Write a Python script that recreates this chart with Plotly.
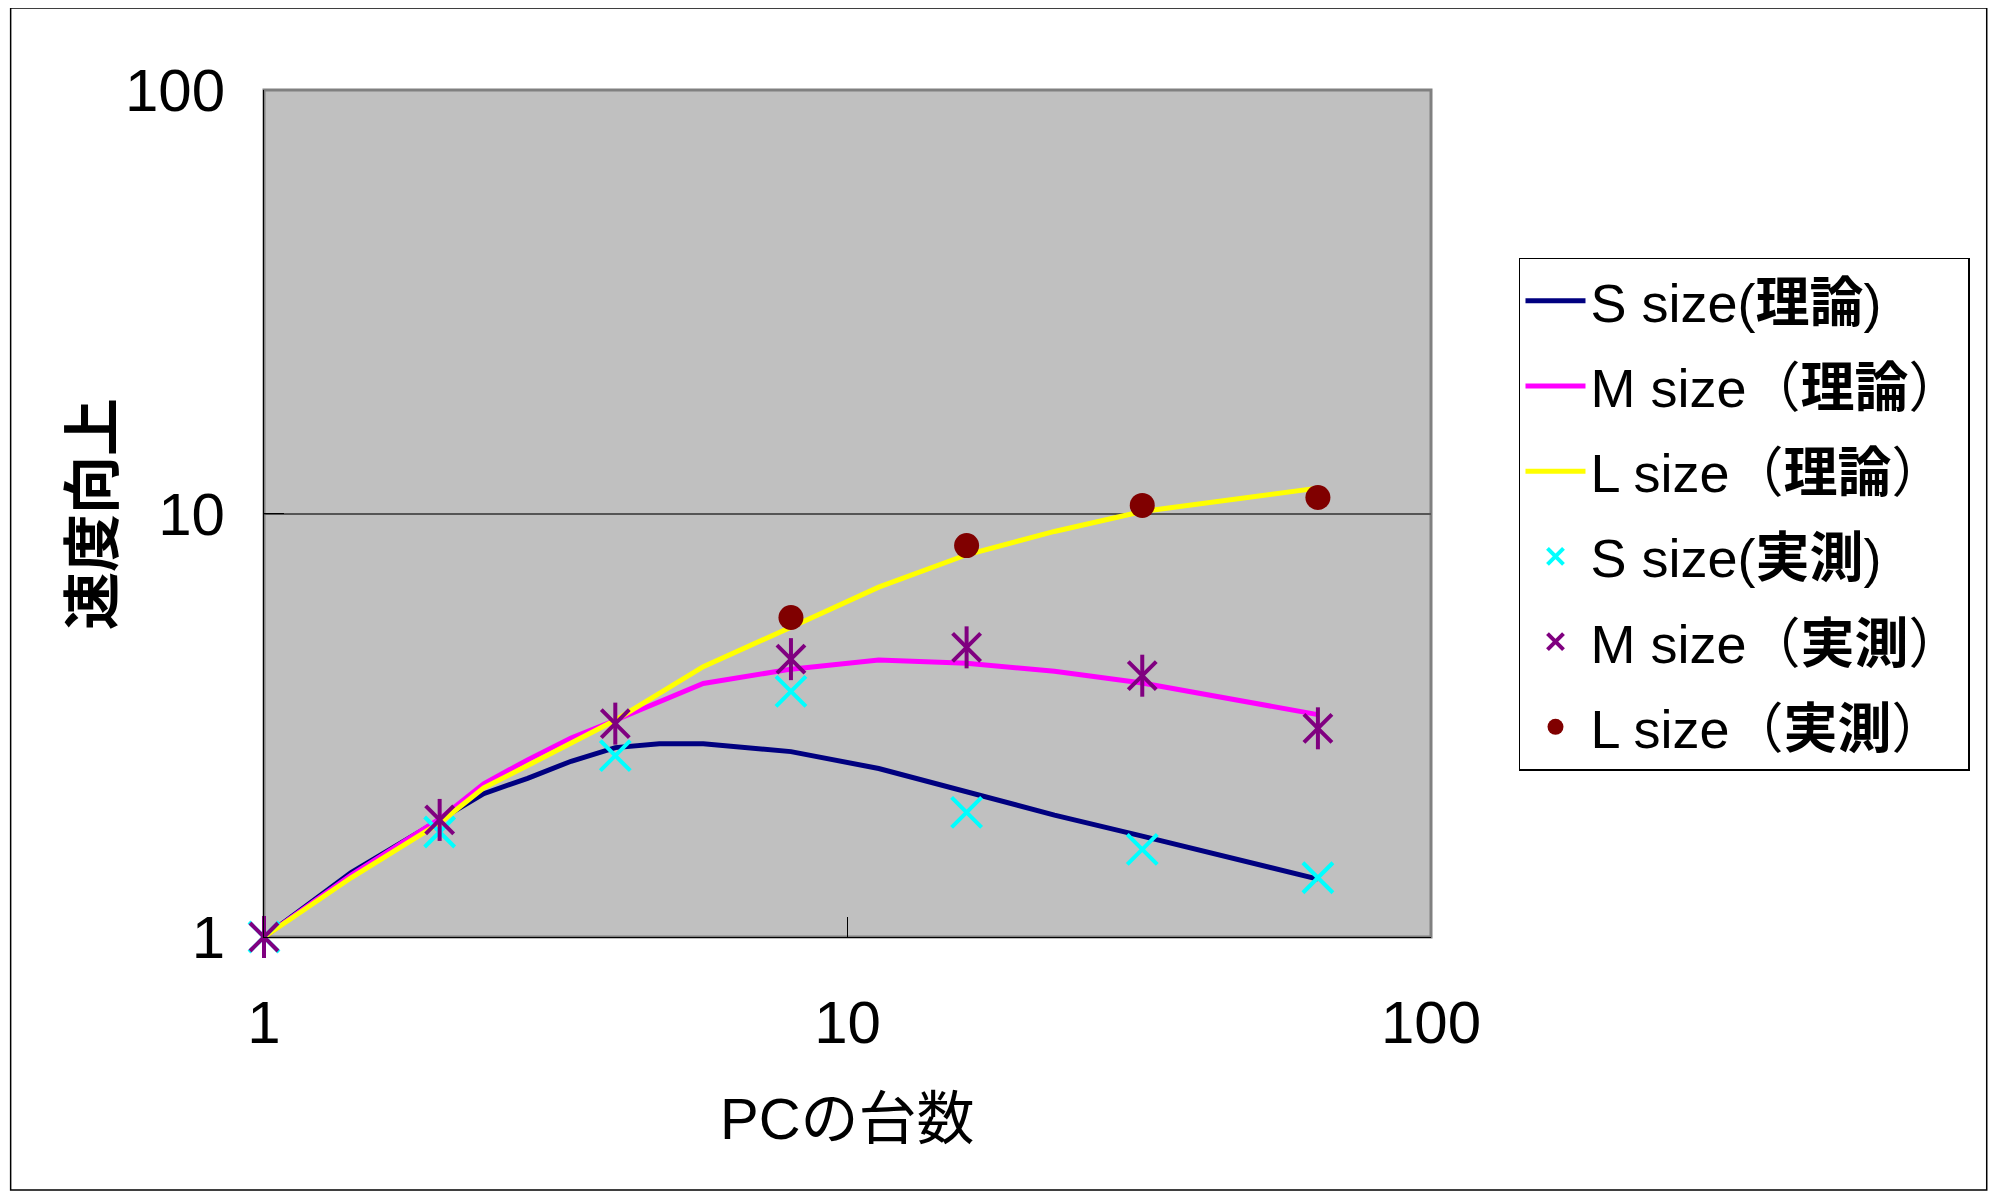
import plotly.graph_objects as go

# ---------------- data ----------------
x_theory = [1, 1.41, 2, 2.38, 2.83, 3.36, 4, 4.76, 5.66, 8, 11.31, 16, 22.63, 32, 45.25, 64]
s_theory = [1, 1.42, 1.89, 2.18, 2.37, 2.60, 2.80, 2.86, 2.86, 2.74, 2.50, 2.20, 1.94, 1.73, 1.54, 1.37]
m_theory = [1, 1.40, 1.90, 2.30, 2.62, 2.95, 3.25, 3.60, 3.97, 4.29, 4.51, 4.43, 4.24, 3.98, 3.65, 3.35]
l_theory = [1, 1.38, 1.86, 2.25, 2.54, 2.88, 3.25, 3.76, 4.35, 5.39, 6.70, 7.99, 9.07, 10.11, 10.80, 11.48]

x_measured = [1, 2, 4, 8, 16, 32, 64]
s_measured = [1, 1.77, 2.68, 3.80, 1.97, 1.61, 1.38]
m_measured = [1, 1.89, 3.19, 4.53, 4.83, 4.14, 3.11]
l_measured = [None, None, None, 5.68, 8.40, 10.45, 10.91]

names = ["S size(<b>理論</b>)", "M size（<b>理論</b>）", "L size（<b>理論</b>）",
         "S size(<b>実測</b>)", "M size（<b>実測</b>）", "L size（<b>実測</b>）"]
x_ticks = [1, 10, 100]
y_ticks = [1, 10, 100]
x_title = "PCの台数"
y_title = "速度向上"

FONT = '"Liberation Sans Narrow", "Arial Narrow", "Liberation Sans", Arial, "Noto Sans CJK JP", sans-serif'

fig = go.Figure()
fig.add_trace(go.Scatter(x=x_theory, y=s_theory, mode="lines", name=names[0],
                         line=dict(color="#000080", width=5), legendgroup="a"))
fig.add_trace(go.Scatter(x=x_theory, y=m_theory, mode="lines", name=names[1],
                         line=dict(color="#FF00FF", width=5), legendgroup="b"))
fig.add_trace(go.Scatter(x=x_theory, y=l_theory, mode="lines", name=names[2],
                         line=dict(color="#FFFF00", width=5), legendgroup="c"))
fig.add_trace(go.Scatter(x=x_measured, y=s_measured, mode="markers", name=names[3],
                         marker=dict(symbol="x-thin", size=30, color="#00FFFF",
                                     line=dict(color="#00FFFF", width=4)), legendgroup="d",
                         cliponaxis=False))
fig.add_trace(go.Scatter(x=x_measured, y=m_measured, mode="markers", name=names[4],
                         marker=dict(symbol="x-thin", size=28, color="#800080",
                                     line=dict(color="#800080", width=4)), legendgroup="e",
                         cliponaxis=False))
fig.add_trace(go.Scatter(x=x_measured, y=m_measured, mode="markers", showlegend=False,
                         marker=dict(symbol="line-ns", size=30, color="#800080",
                                     line=dict(color="#800080", width=4)), legendgroup="e",
                         hoverinfo="skip", cliponaxis=False))
fig.add_trace(go.Scatter(x=x_measured, y=l_measured, mode="markers", name=names[5],
                         marker=dict(symbol="circle", size=25, color="#800000",
                                     line=dict(width=0)), legendgroup="f",
                         cliponaxis=False))

fig.update_layout(
    width=1980, height=1183,
    margin=dict(l=256, r=557, t=82, b=254),
    paper_bgcolor="white", plot_bgcolor="#C0C0C0",
    font=dict(family=FONT, size=60, color="black"),
    showlegend=True,
    legend=dict(x=1.0754, y=0.802, xanchor="left", yanchor="top",
                bgcolor="white", bordercolor="black", borderwidth=1.5,
                font=dict(family=FONT, size=54, color="black"),
                tracegroupgap=12, itemwidth=60),
    xaxis=dict(type="log", range=[0, 2], tickvals=x_ticks, ticktext=[str(v) for v in x_ticks],
               ticks="inside", ticklen=20, tickcolor="black", tickwidth=1,
               showgrid=False, showline=True, linecolor="black", linewidth=1,
               ticklabelstandoff=33, tickfont=dict(family=FONT, size=60)),
    yaxis=dict(type="log", range=[0, 2], tickvals=y_ticks, ticktext=[str(v) for v in y_ticks],
               ticks="inside", ticklen=20, tickcolor="black", tickwidth=1,
               showgrid=True, gridcolor="#555555", gridwidth=1.5,
               showline=True, linecolor="black", linewidth=1,
               ticklabelstandoff=26, tickfont=dict(family=FONT, size=60)),
    shapes=[
        dict(type="rect", xref="paper", yref="paper", x0=0, x1=1, y0=0, y1=1,
             line=dict(color="#808080", width=3), layer="below"),
        dict(type="rect", xref="paper", yref="paper", x0=-0.2171, x1=1.4762, y0=-0.2988, y1=1.0967,
             line=dict(color="black", width=1.5)),
    ],
    annotations=[
        dict(text=x_title, xref="paper", yref="paper", x=0.5, y=-0.2138,
             xanchor="center", yanchor="middle", showarrow=False,
             font=dict(family=FONT, size=58)),
        dict(text="<b>" + y_title + "</b>", xref="paper", yref="paper", x=-0.147, y=0.5,
             xanchor="center", yanchor="middle", showarrow=False, textangle=-90,
             font=dict(family=FONT, size=58)),
    ],
)

fig.write_html("out.html")
